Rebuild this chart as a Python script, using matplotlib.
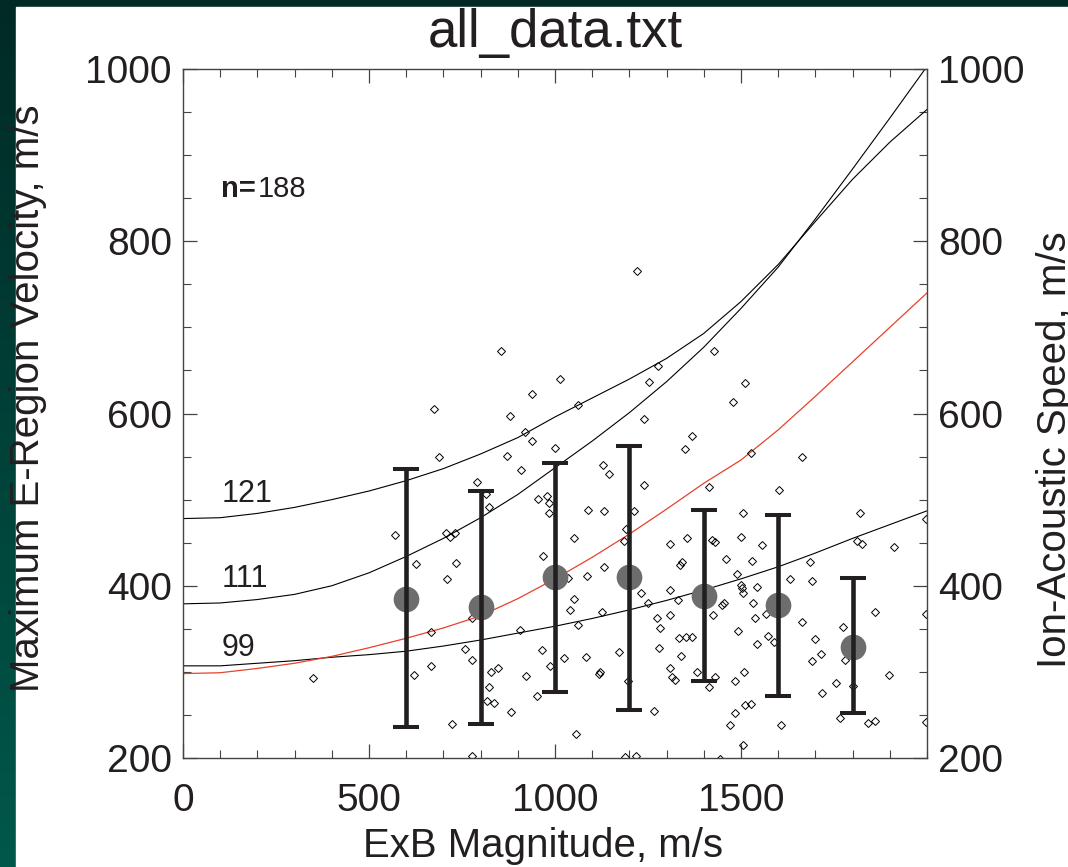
import numpy as np
import matplotlib.pyplot as plt
from matplotlib.patches import Rectangle
from matplotlib.ticker import MultipleLocator

plt.rcParams['font.family'] = ['Liberation Sans', 'DejaVu Sans']

# ---------------- data ----------------
curve_x = [0, 100, 200, 300, 400, 500, 600, 700, 800, 900, 1000,
           1100, 1200, 1300, 1400, 1500, 1600, 1700, 1800, 1900, 2000]
cs_121 = [478, 479, 484, 491, 500, 510, 522, 536, 553, 572, 596,
          618, 640, 664, 693, 730, 773, 823, 872, 915, 953]
cs_111 = [379, 380, 384, 390, 400, 415, 434, 455, 479, 506, 537,
          568, 601, 637, 677, 722, 770, 826, 884, 943, 1003]
cs_99 = [307, 307, 310, 313, 317, 320, 324, 330, 337, 345, 353,
         362, 372, 383, 395, 408, 422, 438, 455, 471, 487]
cs_red = [298, 299, 304, 310, 318, 328, 339, 351, 365, 385, 408,
          433, 460, 489, 519, 546, 581, 620, 660, 700, 740]

bin_x = [600, 800, 1000, 1200, 1400, 1600, 1800]
bin_mean = [385, 375, 410, 410, 388, 378, 329]
bin_low = [236, 240, 277, 256, 289, 272, 252]
bin_high = [535, 510, 543, 562, 488, 482, 409]

# ExB magnitude, max E-region velocity
exb = [688, 871, 939, 919, 1000, 908, 789, 814, 823, 955, 978, 985, 983, 1052,
       571, 708, 719, 730, 625, 735, 711, 967, 1036, 1052, 1039, 1061, 906, 778,
       666, 759, 778, 964, 1024, 987, 666, 621, 829, 847, 922, 349, 823, 951,
       818, 836, 881, 723, 1056, 778,
       1368, 1349, 1665, 1129, 1146, 1240, 1415, 1526, 1603, 1088, 1133, 1213,
       1191, 1186, 1505, 1820, 1308, 1355, 1422, 1430, 1499, 1557, 1813, 1825,
       1912, 1997, 1133, 1085, 1337, 1341, 1461, 1530, 1490, 1633, 1686, 1692,
       1499, 1503, 1506, 1542, 1532, 1537, 1568, 1310, 1330, 1230, 1249, 1449,
       1453, 1425, 1126, 1861, 1997, 1310, 1274, 1283, 1491, 1665, 1773, 1698,
       1716, 1690, 1780, 1334, 1351, 1368, 1280, 1340, 1542, 1572, 1588, 1173,
       1083, 1117, 1121, 1196, 1310, 1315, 1323, 1382, 1431, 1413, 1485, 1508,
       1510, 1527, 1485, 1470, 1506, 1607, 1267, 1717, 1755, 1800, 1766, 1842,
       1860, 1898, 1997, 1444, 1218, 1187,
       1220, 1013, 1063, 1277, 1252, 1427, 1512, 1479, 1238,
       854, 938, 674, 880]
vmax = [549, 551, 568, 579, 560, 534, 521, 507, 492, 501, 504, 496, 485, 455,
        459, 461, 457, 461, 425, 426, 408, 435, 409, 385, 372, 354, 349, 362,
        346, 327, 314, 325, 316, 307, 307, 296, 300, 305, 295, 293, 282, 272,
        266, 264, 253, 239, 228, 202,
        574, 559, 549, 540, 530, 517, 515, 554, 511, 488, 487, 487,
        466, 452, 484, 485, 449, 456, 453, 451, 457, 447, 452, 448,
        445, 477, 422, 411, 424, 428, 431, 429, 414, 408, 427, 406,
        401, 397, 392, 399, 380, 362, 367, 395, 383, 392, 380, 378,
        380, 366, 370, 369, 367, 366, 362, 351, 347, 358, 352, 338,
        321, 313, 314, 339, 341, 341, 328, 318, 332, 342, 335, 323,
        317, 298, 300, 289, 304, 294, 290, 300, 294, 282, 289, 300,
        262, 263, 252, 238, 215, 238, 254, 275, 287, 284, 247, 241,
        243, 296, 242, 199, 202, 201,
        765, 640, 610, 655, 636, 672, 635, 613, 594,
        672, 623, 605, 597]

# ---------------- figure ----------------
W, H = 1068, 867
fig = plt.figure(figsize=(W / 100, H / 100), dpi=100)

# dark green frame with white panel
bg = fig.add_axes([0, 0, 1, 1], zorder=-10)
grad = np.linspace(0, 1, 256)[:, None]
top_c = np.array([0x01, 0x2a, 0x25]) / 255
bot_c = np.array([0x00, 0x58, 0x4b]) / 255
img = top_c[None, None, :] * (1 - grad[..., None]) + bot_c[None, None, :] * grad[..., None]
bg.imshow(img, aspect='auto', extent=[0, 1, 0, 1], origin='upper')
bg.add_patch(Rectangle((16 / W, 0), 1, 1 - 7 / H, color='white'))
bg.set_xlim(0, 1)
bg.set_ylim(0, 1)
bg.axis('off')

ax = fig.add_axes([183 / W, 1 - 758 / H, (927 - 183) / W, (758 - 69) / H])
ax.set_facecolor('none')

ink = '#231f20'
ax.plot(curve_x, cs_121, color='black', lw=0.8)
ax.plot(curve_x, cs_111, color='black', lw=0.8)
ax.plot(curve_x, cs_99, color='black', lw=0.8)
ax.plot(curve_x, cs_red, color='#e8412c', lw=0.9)

ax.plot(exb, vmax, 'D', ms=4.2, mfc='none', mec='black', mew=0.7, clip_on=True)

ax.plot(bin_x, bin_mean, 'o', ms=18.5, color='#6d6d6d', mec='none', zorder=3)
yerr = [np.array(bin_mean) - np.array(bin_low), np.array(bin_high) - np.array(bin_mean)]
ax.errorbar(bin_x, bin_mean, yerr=yerr, fmt='none', ecolor=ink,
            elinewidth=3.3, capsize=9.5, capthick=2.9, zorder=4)

ax.text(103, 851, 'n=', fontsize=21, fontweight='bold', color=ink, va='baseline')
ax.text(200, 851, '188', fontsize=21, color=ink, va='baseline')
ax.text(104, 497, '121', fontsize=22, color=ink, va='baseline')
ax.text(104, 399, '111', fontsize=22, color=ink, va='baseline')
ax.text(104, 318, '99', fontsize=22, color=ink, va='baseline')

ax.set_xlim(0, 2000)
ax.set_ylim(200, 1000)
ax.set_xticks([0, 500, 1000, 1500])
ax.set_yticks([200, 400, 600, 800, 1000])
ax.xaxis.set_minor_locator(MultipleLocator(100))
ax.yaxis.set_minor_locator(MultipleLocator(50))
ax.tick_params(which='both', direction='in', top=True, right=True,
               labelright=True, colors='#444444', labelcolor=ink, labelsize=28)
ax.tick_params(which='major', length=10, width=0.9)
ax.tick_params(which='minor', length=5.5, width=0.8)
ax.tick_params(axis='x', pad=18)
ax.tick_params(axis='y', pad=8)
for s in ax.spines.values():
    s.set_color('#444444')
    s.set_linewidth(1.0)

fig.text(555 / W, 1 - 47 / H, 'all_data.txt', fontsize=38, color=ink,
         ha='center', va='baseline')
fig.text(543 / W, 1 - 857 / H, 'ExB Magnitude, m/s', fontsize=29, color=ink,
         ha='center', va='baseline')
fig.text(9 / W, 1 - 398 / H, 'Maximum E-Region Velocity, m/s', fontsize=29,
         color=ink, rotation=90, ha='left', va='center')
# right-hand label runs off the edge of the page, as in the original
fig.text(1036 / W, 1 - 450 / H, 'Ion-Acoustic Speed, m/s', fontsize=29,
         color=ink, rotation=90, ha='left', va='center')

fig.savefig('out.png', dpi=100)
